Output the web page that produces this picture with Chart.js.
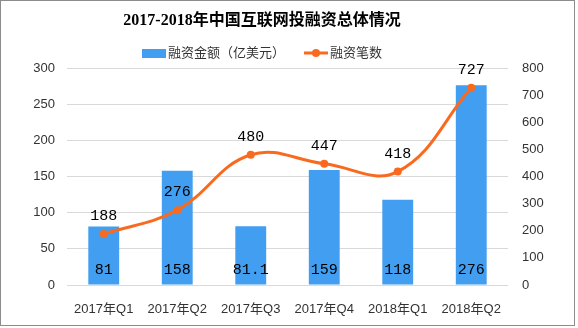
<!DOCTYPE html>
<html>
<head>
<meta charset="utf-8">
<script src="https://cdn.jsdelivr.net/npm/chart.js@4.4.1/dist/chart.umd.min.js"></script>
<style>
  html, body { margin: 0; padding: 0; background: #fff; }
  #wrap { width: 578px; height: 328px; }
</style>
</head>
<body>
<div id="wrap"><canvas id="myChart" width="578" height="328"></canvas></div>
<script>
var quarters = ["2017年Q1", "2017年Q2", "2017年Q3", "2017年Q4", "2018年Q1", "2018年Q2"];
var amounts = [81, 158, 81.1, 159, 118, 276];      // 融资金额（亿美元）
var deals = [188, 276, 480, 447, 418, 727];        // 融资笔数
var leftTicks = [0, 50, 100, 150, 200, 250, 300];
var rightTicks = [0, 100, 200, 300, 400, 500, 600, 700, 800];
var titleText = "2017-2018年中国互联网投融资总体情况";
var amountLabel = "融资金额（亿美元）";
var dealLabel = "融资笔数";

var BLUE = "#419ef0";
var ORANGE = "#fa6a1e";
var labelFont = "'Liberation Sans', 'Noto Sans CJK SC', sans-serif";

// white background, grey frame, title and legend drawn by hand
const framePlugin = {
  id: "frame",
  beforeDraw(chart) {
    const ctx = chart.ctx;
    ctx.save();
    ctx.fillStyle = "#fff";
    ctx.fillRect(0, 0, chart.width, chart.height);
    ctx.strokeStyle = "#8c8c8c";
    ctx.lineWidth = 1;
    ctx.strokeRect(0.5, 0.5, chart.width - 4, chart.height - 3);

    ctx.fillStyle = "#000";
    ctx.textAlign = "center";
    ctx.textBaseline = "middle";
    ctx.font = "bold 16px 'Liberation Serif', 'Noto Sans CJK SC', serif";
    ctx.fillText(titleText, 262, 21);

    // legend
    const y = 53;
    ctx.textAlign = "left";
    ctx.font = "13px " + labelFont;
    ctx.fillStyle = BLUE;
    ctx.fillRect(142, y - 4, 24, 9);
    ctx.fillStyle = "#333";
    ctx.fillText(amountLabel, 168, y);
    ctx.strokeStyle = ORANGE;
    ctx.lineWidth = 3;
    ctx.beginPath();
    ctx.moveTo(304, y);
    ctx.lineTo(328, y);
    ctx.stroke();
    ctx.fillStyle = ORANGE;
    ctx.beginPath();
    ctx.arc(316, y, 4, 0, Math.PI * 2);
    ctx.fill();
    ctx.fillStyle = "#333";
    ctx.fillText(dealLabel, 330, y);
    ctx.restore();
  },
};

// value labels: bars at the bottom inside, line above points
const valuePlugin = {
  id: "values",
  afterDatasetsDraw(chart) {
    const ctx = chart.ctx;
    ctx.save();
    ctx.font = "15px 'Liberation Mono', 'DejaVu Sans Mono', monospace";
    ctx.fillStyle = "#000";
    ctx.textAlign = "center";
    ctx.textBaseline = "middle";
    const yScale = chart.scales.y;
    chart.getDatasetMeta(1).data.forEach((bar, i) => {
      ctx.fillText(String(amounts[i]), bar.x, yScale.getPixelForValue(0) - 15);
    });
    chart.getDatasetMeta(0).data.forEach((pt, i) => {
      ctx.fillText(String(deals[i]), pt.x, pt.y - 18);
    });
    ctx.restore();
  },
};

const ctx = document.getElementById("myChart").getContext("2d");
new Chart(ctx, {
  data: {
    labels: quarters,
    datasets: [
      {
        type: "line",
        label: dealLabel,
        data: deals,
        yAxisID: "y1",
        borderColor: ORANGE,
        backgroundColor: ORANGE,
        borderWidth: 3,
        pointRadius: 4,
        pointBackgroundColor: ORANGE,
        pointBorderWidth: 0,
        tension: 0.4,
        order: 0,
      },
      {
        type: "bar",
        label: amountLabel,
        data: amounts,
        yAxisID: "y",
        backgroundColor: BLUE,
        barPercentage: 0.84,
        categoryPercentage: 0.5,
        order: 1,
      },
    ],
  },
  options: {
    responsive: false,
    animation: false,
    layout: { padding: { left: 0, right: 0, top: 68, bottom: 0 } },
    plugins: {
      legend: { display: false },
      tooltip: { enabled: false },
      title: { display: false },
    },
    scales: {
      x: {
        grid: { display: false },
        border: { display: false },
        afterFit(axis) { axis.height = 43; },
        ticks: { color: "#333", font: { family: labelFont, size: 13 }, padding: 9, maxRotation: 0 },
      },
      y: {
        position: "left",
        min: 0,
        max: 300,
        afterBuildTicks(axis) { axis.ticks = leftTicks.map((v) => ({ value: v })); },
        afterFit(axis) { axis.width = 67; },
        grid: { color: "#d9d9d9", drawTicks: false },
        border: { display: false },
        ticks: { color: "#333", font: { family: labelFont, size: 13 }, padding: 12 },
      },
      y1: {
        position: "right",
        min: 0,
        max: 800,
        afterBuildTicks(axis) { axis.ticks = rightTicks.map((v) => ({ value: v })); },
        afterFit(axis) { axis.width = 70; },
        grid: { drawOnChartArea: false, drawTicks: false },
        border: { display: false },
        ticks: { color: "#333", font: { family: labelFont, size: 13 }, padding: 14 },
      },
    },
  },
  plugins: [framePlugin, valuePlugin],
});
</script>
</body>
</html>
